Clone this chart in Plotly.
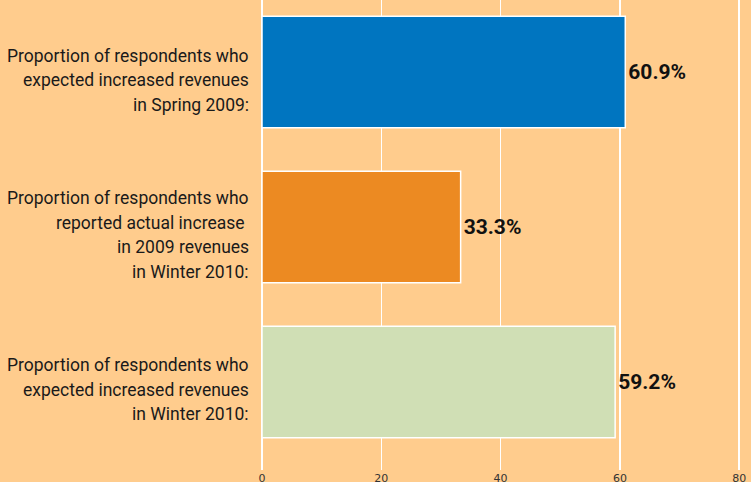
import plotly.graph_objects as go

categories = [
    "Proportion of respondents who<br>expected increased revenues<br>in Winter 2010:",
    "Proportion of respondents who<br>reported actual increase <br>in 2009 revenues<br>in Winter 2010:",
    "Proportion of respondents who<br>expected increased revenues<br>in Spring 2009:",
]
values = [59.2, 33.3, 60.9]
value_labels = ["59.2%", "33.3%", "60.9%"]
bar_colors = ["#D0DFB5", "#EC8A22", "#0075C0"]
tick_values = [0, 20, 40, 60, 80]

BG = "#FFCC8D"
LABEL_FONT = "Roboto, Liberation Sans, sans-serif"
LINE_H = 24.5

fig = go.Figure()
fig.add_trace(go.Bar(
    x=values,
    y=list(range(len(categories))),
    orientation="h",
    width=0.72,
    marker=dict(color=bar_colors, line=dict(color="white", width=1.5)),
    text=value_labels,
    textposition="outside",
    textfont=dict(family=LABEL_FONT, size=21, color="#111111", weight="bold"),
    cliponaxis=False,
    hoverinfo="skip",
))

annotations = []
for i, c in enumerate(categories):
    lines = c.split("<br>")
    n = len(lines)
    for j, line in enumerate(lines):
        annotations.append(dict(
            x=0, xref="paper", y=i, yref="y",
            text=line.replace(" ", "&nbsp;") if line.endswith(" ") else line,
            showarrow=False, xanchor="right", yanchor="middle",
            xshift=-11, yshift=-8 - (j - (n - 1) / 2) * LINE_H,
            font=dict(family=LABEL_FONT, size=17.5, color="#1a1a1a"),
        ))

fig.update_layout(
    width=751, height=482,
    margin=dict(l=262, r=10, t=0, b=12, autoexpand=False),
    paper_bgcolor=BG, plot_bgcolor=BG,
    showlegend=False,
    hovermode=False,
    annotations=annotations,
    xaxis=dict(
        range=[0, 80.3], tickvals=tick_values, showgrid=True, automargin=False,
        gridcolor="white", gridwidth=1.5, zeroline=True, zerolinecolor="white",
        zerolinewidth=1.5, showline=False, ticks="",
        tickfont=dict(family="DejaVu Sans", size=11, color="#333333"),
    ),
    yaxis=dict(
        range=[-0.568, 2.465], showticklabels=False, showgrid=False,
        automargin=False, zeroline=False, showline=False, ticks="",
    ),
)

fig.write_html(
    "out.html",
    config={"displayModeBar": False, "staticPlot": True},
    post_script="document.body.style.margin='0';document.body.style.background='" + BG + "';",
)
